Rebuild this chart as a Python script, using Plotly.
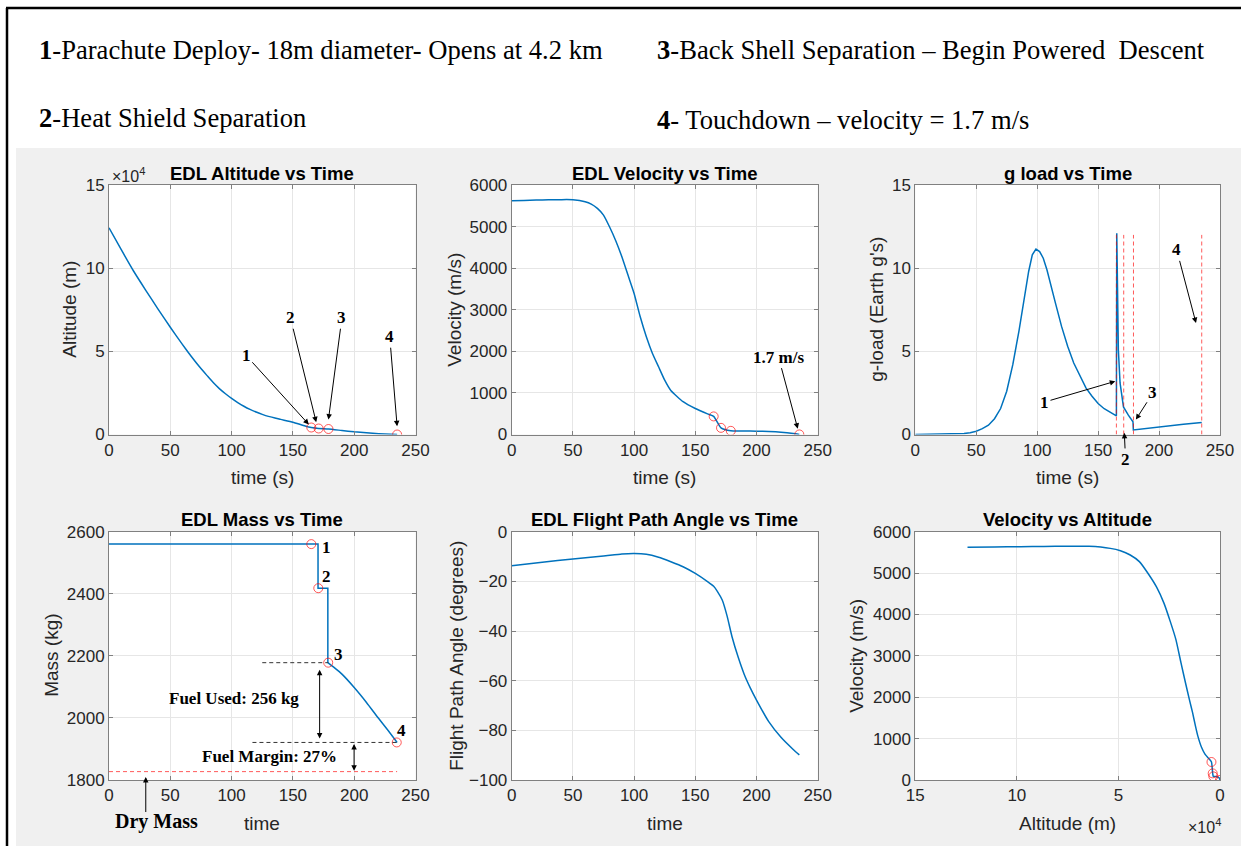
import plotly.graph_objects as go

# ---- data ----
traj_t = [0, 10, 20, 30, 40, 50, 60, 65, 70, 75, 80, 85, 90, 95, 100, 105, 110, 115, 120, 125,
          130, 140, 150, 160, 165, 171, 179, 190, 200, 210, 220, 230, 235]
traj_alt = [124300, 111100, 98300, 86700, 75400, 64500, 54000, 49000, 44200, 39700, 35400, 31200,
            27600, 24500, 21700, 19200, 17000, 15100, 13500, 12100, 10900, 9100, 7400, 5100, 4200,
            3600, 3300, 2400, 1600, 1000, 500, 120, 0]
traj_vel = [5622, 5630, 5638, 5644, 5648, 5646, 5597, 5540, 5437, 5277, 4990, 4660, 4274, 3833,
            3392, 2830, 2350, 1949, 1628, 1307, 1060, 790, 625, 495, 435, 160, 88, 84, 80, 72, 56,
            25, 1.7]

gload_t = [0, 30, 40, 45, 50, 55, 60, 65, 70, 75, 80, 85, 90, 93, 96, 99, 102, 105, 108, 111,
           115, 120, 125, 130, 135, 140, 145, 150, 155, 160, 165, 165.3, 166.6, 168, 170.8, 174.8,
           178.6, 178.9, 190, 200, 210, 220, 235]
gload = [0, 0.02, 0.06, 0.11, 0.2, 0.35, 0.56, 0.95, 1.56, 2.6, 4.2, 6.2, 8.5, 9.8, 10.8, 11.15,
         11.0, 10.6, 9.9, 9.0, 7.9, 6.5, 5.3, 4.3, 3.5, 2.8, 2.3, 1.86, 1.55, 1.32, 1.12, 12.1, 5.1,
         3.1, 1.66, 1.16, 0.76, 0.27, 0.37, 0.46, 0.55, 0.62, 0.72]

# mass: staging steps, then the powered-descent burn
mass_step_t = [0, 165, 170.5, 170.5, 178.5, 178.5]
mass_step_kg = [2560, 2560, 2560, 2418, 2418, 2178]
mass_burn_t = [178.5, 184, 190, 200, 210, 220, 228, 235]
mass_burn_kg = [2178, 2161, 2141, 2098, 2050, 1998, 1958, 1921]

fpa_t = [0, 25, 50, 75, 90, 100, 110, 120, 130, 140, 150, 160, 165, 168, 172, 176, 180, 185, 190,
         195, 200, 210, 220, 230, 235]
fpa_deg = [-13.7, -12.3, -11.0, -9.8, -9.0, -8.8, -9.1, -10.3, -12.1, -14.1, -16.8, -20.1, -22.0,
           -24.0, -27.5, -34.0, -42.3, -50.5, -57.5, -63.0, -67.8, -76.5, -82.8, -87.7, -89.9]

# events 1-4
ev_t = [165, 171, 179, 235]
ev_alt = [4200, 3600, 3300, 0]
ev_vel = [435, 160, 88, 1.7]
ev_mass_t = [165, 170.7, 178.8, 234.7]
ev_mass = [2560, 2418, 2178, 1921]
dry_mass = 1827

W, H = 1241, 846
BLUE = '#0072BD'
RED = 'rgba(255,0,0,0.65)'
TICK = '#262626'
SANS = 'Liberation Sans'
SERIF = 'Liberation Serif'


def px(x):
    return x / W


def py(y):
    return 1 - y / H


cols = [(109, 415.5), (511.7, 817.7), (915.3, 1220)]
rows = [(185, 434.5), (531.7, 780)]

fig = go.Figure()


def axis(**kw):
    d = dict(showline=True, linecolor='#808080', linewidth=1, mirror='ticks', ticks='inside',
             ticklen=4, tickcolor='#808080', showgrid=True, gridcolor='#e6e6e6', zeroline=False,
             automargin=False, tickfont=dict(family=SANS, size=17, color=TICK))
    d.update(kw)
    return d


layout = {}
names = ['', '2', '3', '4', '5', '6']
k = 0
for r in rows:
    for c in cols:
        n = names[k]
        layout['xaxis' + n] = axis(domain=[px(c[0]), px(c[1])], anchor='y' + n)
        layout['yaxis' + n] = axis(domain=[py(r[1]), py(r[0])], anchor='x' + n)
        k += 1

t_ticks = [0, 50, 100, 150, 200, 250]
layout['xaxis'].update(range=[0, 250], tickvals=t_ticks)
layout['yaxis'].update(range=[0, 150000], tickvals=[0, 50000, 100000, 150000], ticktext=['0', '5', '10', '15'])
layout['xaxis2'].update(range=[0, 250], tickvals=t_ticks)
layout['yaxis2'].update(range=[0, 6000], dtick=1000)
layout['xaxis3'].update(range=[0, 250], tickvals=t_ticks)
layout['yaxis3'].update(range=[0, 15], tickvals=[0, 5, 10, 15])
layout['xaxis4'].update(range=[0, 250], tickvals=t_ticks)
layout['yaxis4'].update(range=[1800, 2600], dtick=200)
layout['xaxis5'].update(range=[0, 250], tickvals=t_ticks)
layout['yaxis5'].update(range=[-100, 0], dtick=20)
layout['xaxis6'].update(range=[150000, 0], tickvals=[0, 50000, 100000, 150000], ticktext=['0', '5', '10', '15'])
layout['yaxis6'].update(range=[0, 6000], dtick=1000)

line = dict(color=BLUE, width=1.5)
sline = dict(color=BLUE, width=1.5, shape='spline', smoothing=0.5)
circ = dict(symbol='circle-open', size=9, color=RED, line=dict(width=1))

fig.add_trace(go.Scatter(x=traj_t, y=traj_alt, mode='lines', line=sline, xaxis='x', yaxis='y'))
fig.add_trace(go.Scatter(x=ev_t, y=ev_alt, mode='markers', marker=circ, xaxis='x', yaxis='y'))
fig.add_trace(go.Scatter(x=traj_t, y=traj_vel, mode='lines', line=sline, xaxis='x2', yaxis='y2'))
fig.add_trace(go.Scatter(x=ev_t, y=ev_vel, mode='markers', marker=circ, xaxis='x2', yaxis='y2'))
fig.add_trace(go.Scatter(x=gload_t, y=gload, mode='lines', line=line, xaxis='x3', yaxis='y3'))
fig.add_trace(go.Scatter(x=mass_step_t, y=mass_step_kg, mode='lines', line=line, xaxis='x4', yaxis='y4'))
fig.add_trace(go.Scatter(x=mass_burn_t, y=mass_burn_kg, mode='lines', line=sline, xaxis='x4', yaxis='y4'))
fig.add_trace(go.Scatter(x=ev_mass_t, y=ev_mass, mode='markers', marker=circ, xaxis='x4', yaxis='y4'))
fig.add_trace(go.Scatter(x=fpa_t, y=fpa_deg, mode='lines', line=sline, xaxis='x5', yaxis='y5'))
fig.add_trace(go.Scatter(x=traj_alt, y=traj_vel, mode='lines', line=sline, xaxis='x6', yaxis='y6'))
fig.add_trace(go.Scatter(x=ev_alt, y=ev_vel, mode='markers', marker=circ, xaxis='x6', yaxis='y6'))

shapes = [
    dict(type='rect', xref='paper', yref='paper', x0=px(16), x1=1, y0=0, y1=py(148),
         fillcolor='#f0f0f0', line=dict(width=0), layer='below'),
    dict(type='line', xref='paper', yref='paper', x0=px(7), x1=px(7), y0=0, y1=py(8),
         line=dict(color='black', width=2.5)),
    dict(type='line', xref='paper', yref='paper', x0=px(6), x1=1, y0=py(8), y1=py(8),
         line=dict(color='black', width=2.5)),
]
# white plot areas on top of the grey panel
for r in rows:
    for c in cols:
        shapes.append(dict(type='rect', xref='paper', yref='paper', x0=px(c[0]), x1=px(c[1]),
                           y0=py(r[1]), y1=py(r[0]), fillcolor='white', line=dict(width=0),
                           layer='below'))
for t in ev_t:
    shapes.append(dict(type='line', xref='x3', yref='y3', x0=t, x1=t, y0=0, y1=12,
                       line=dict(color=RED, width=1, dash='4px,3px')))
shapes += [
    dict(type='line', xref='x4', yref='y4', x0=125, x1=ev_mass_t[2], y0=ev_mass[2], y1=ev_mass[2],
         line=dict(color='#333', width=1, dash='4px,3px')),
    dict(type='line', xref='x4', yref='y4', x0=117, x1=ev_mass_t[3], y0=ev_mass[3], y1=ev_mass[3],
         line=dict(color='#333', width=1, dash='4px,3px')),
    dict(type='line', xref='x4', yref='y4', x0=0, x1=235, y0=dry_mass, y1=dry_mass,
         line=dict(color=RED, width=1, dash='4px,3px')),
]

ann = []


def ptext(text, x, y, font, xanchor='center', angle=0):
    return dict(text=text, x=px(x), y=py(y), xref='paper', yref='paper', xanchor=xanchor,
                yanchor='middle', textangle=angle, showarrow=False, font=font)


# header text
hfont = dict(family=SERIF, size=26.6, color='black')
ann += [ptext('<b>1</b>-Parachute Deploy- 18m diameter- Opens at 4.2 km', 37, 50, hfont, 'left'),
        ptext('<b>2</b>-Heat Shield Separation', 37, 118, hfont, 'left'),
        ptext('<b>3</b>-Back Shell Separation \u2013 Begin Powered  Descent', 655, 50, hfont, 'left'),
        ptext('<b>4</b>- Touchdown \u2013 velocity = 1.7 m/s', 655, 120, hfont, 'left')]

# subplot titles and axis labels
titles = ['EDL Altitude vs Time', 'EDL Velocity vs Time', 'g load vs Time',
          'EDL Mass vs Time', 'EDL Flight Path Angle vs Time', 'Velocity vs Altitude']
xlabels = ['time (s)', 'time (s)', 'time (s)', 'time', 'time', 'Altitude (m)']
ylabels = ['Altitude (m)', 'Velocity (m/s)', "g-load (Earth g's)", 'Mass (kg)',
           'Flight Path Angle (degrees)', 'Velocity (m/s)']
ylab_x = [70, 455, 877, 52, 457, 857]
tfont = dict(family=SANS, size=18.5, color='black')
lfont = dict(family=SANS, size=19, color=TICK)
k = 0
for r in rows:
    for c in cols:
        cx = (c[0] + c[1]) / 2
        ann.append(ptext('<b>%s</b>' % titles[k], cx, r[0] - 12, tfont))
        ann.append(ptext(xlabels[k], cx, r[1] + 43, lfont))
        ann.append(ptext(ylabels[k], ylab_x[k], (r[0] + r[1]) / 2, lfont, angle=-90))
        k += 1

efont = dict(family=SANS, size=16, color=TICK)
ann.append(ptext('\u00d710<sup>4</sup>', 110, 175, efont, 'left'))
ann.append(ptext('\u00d710<sup>4</sup>', 1223, 826, efont, 'right'))

bold = dict(family=SERIF, size=17, color='black')


def arrow(text, xr, yr, x, y, ax, ay, size=17):
    return dict(text='<b>%s</b>' % text if text else '', xref=xr, yref=yr, axref=xr, ayref=yr,
                x=x, y=y, ax=ax, ay=ay, showarrow=True, arrowhead=2, arrowsize=1.1, arrowwidth=1,
                arrowcolor='black', font=dict(family=SERIF, size=size, color='black'))


# altitude plot
ann += [arrow('1', 'x', 'y', 163, 6000, 112, 47400),
        arrow('2', 'x', 'y', 169, 7400, 148, 70200),
        arrow('3', 'x', 'y', 179, 9000, 190, 70200),
        arrow('4', 'x', 'y', 235, 5000, 229, 58800)]
# velocity plot
ann.append(arrow('1.7 m/s', 'x2', 'y2', 233.7, 140, 218, 1860))
# g-load plot
ann += [arrow('1', 'x3', 'y3', 164.1, 3.2, 106, 1.95),
        arrow('2', 'x3', 'y3', 171.5, 0.1, 172.5, -1.5),
        arrow('3', 'x3', 'y3', 181, 0.9, 195, 2.5),
        arrow('4', 'x3', 'y3', 230.3, 6.7, 214.5, 11.1)]
# mass plot labels
for txt, x, y in [('1', 177, 2548), ('2', 177, 2457), ('3', 187, 2203), ('4', 238.5, 1959)]:
    ann.append(dict(text='<b>%s</b>' % txt, x=x, y=y, xref='x4', yref='y4', xanchor='center',
                    yanchor='middle', showarrow=False, font=bold))
ann.append(dict(text='<b>Fuel Used: 256 kg</b>', x=102, y=2061, xref='x4', yref='y4',
                xanchor='center', yanchor='middle', showarrow=False, font=bold))
ann.append(dict(text='<b>Fuel Margin: 27%</b>', x=131, y=1877, xref='x4', yref='y4',
                xanchor='center', yanchor='middle', showarrow=False, font=bold))
ann.append(ptext('<b>Dry Mass</b>', 156, 821, dict(family=SERIF, size=20, color='black')))
ann.append(arrow('', 'x4', 'y4', 30, 1810, 30, 1692))
for x0, y0, y1 in [(171.8, 2160, 1934), (199.9, 1921, 1830)]:
    a = arrow('', 'x4', 'y4', x0, y1, x0, y0)
    a['arrowside'] = 'end+start'
    ann.append(a)

fig.update_layout(width=W, height=H, margin=dict(l=0, r=0, t=0, b=0, autoexpand=False),
                  paper_bgcolor='white', plot_bgcolor='white', showlegend=False,
                  shapes=shapes, annotations=ann, **layout)

# drop the browser's default body margin so the figure sits at the page corner
fig.write_html('out.html', config={'displayModeBar': False},
               post_script="document.body.style.margin='0';")
